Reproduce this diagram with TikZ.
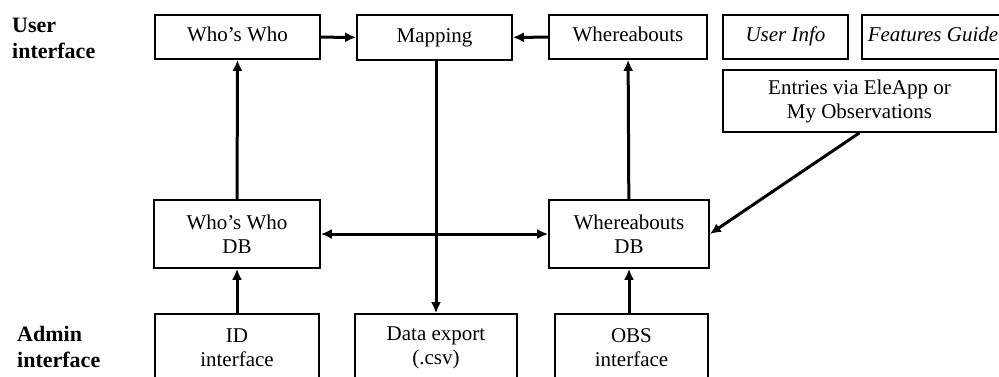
\documentclass[tikz,border=0pt]{standalone}
\usepackage{fontspec}
\setmainfont{Liberation Serif}
\usetikzlibrary{arrows.meta,positioning}
\tikzset{
     box/.style={draw, line width=1.6pt, rectangle, align=center, inner sep=0pt},
     top/.style={box, minimum height=44pt, text height=14pt, text depth=4.5pt},
     db/.style={box, minimum height=68pt},
     side/.style={font=\fontsize{22}{26}\selectfont\bfseries, align=left, anchor=north west, inner sep=0pt},
     link/.style={line width=3pt, ->},
}
\tikzset{>={Latex[length=11pt,width=10pt]}}
\def\ux{1pt}
\def\uy{-1pt}

\begin{document}
\begin{tikzpicture}[x=\ux, y=\uy, font=\fontsize{21}{24}\selectfont]
		\useasboundingbox (0,0) rectangle (999,376);

		%% user interface row
		\node[top, minimum width=165pt] (ww) at (237.5, 37) {Who’s Who};
		\node[top, minimum width=155pt, minimum height=45pt] (map) at (434.5, 37.5) {Mapping};
		\node[top, minimum width=158pt] (wa) at (628, 37) {Whereabouts};
		\node[top, minimum width=125pt] (uinfo) at (785.5, 37) {\itshape User Info};
		\node[top, minimum width=142pt] (guide) at (933, 37) {\itshape Features Guide};
		\node[box, minimum width=273pt, minimum height=62pt] (entries) at (859.5, 101) {Entries via EleApp or\\My Observations};

		%% databases
		\node[db, minimum width=166pt] (wwdb) at (237, 234) {Who’s Who\\DB};
		\node[db, minimum width=160pt] (wadb) at (629, 234) {Whereabouts\\DB};

		%% admin interface row
		\node[db, minimum width=164pt] (idif) at (237, 348) {ID\\interface};
		\node[db, minimum width=162pt] (export) at (436, 348) {Data export\\(.csv)};
		\node[db, minimum width=153pt] (obs) at (631.5, 348) {OBS\\interface};

		\node[side] (ulabel) at (12, 18) {User\\interface};
		\node[side] (alabel) at (17, 326) {Admin\\interface};

		%% connectors
		\draw[link] (ww) -- (map);
		\draw[link] (wa) -- (map);
		\draw[link] (wwdb) -- (ww);
		\draw[link] (wadb) -- (wa);
		\draw[link] (map.south -| export.north) -- (export.north);
		\draw[line width=3pt, <->] (wwdb) -- (wadb);
		\draw[link] (entries.south) -- (wadb.east);
		\draw[link] (idif) -- (wwdb);
		\draw[link] (obs.north -| wadb.south) -- (wadb.south);
\end{tikzpicture}
\end{document}
